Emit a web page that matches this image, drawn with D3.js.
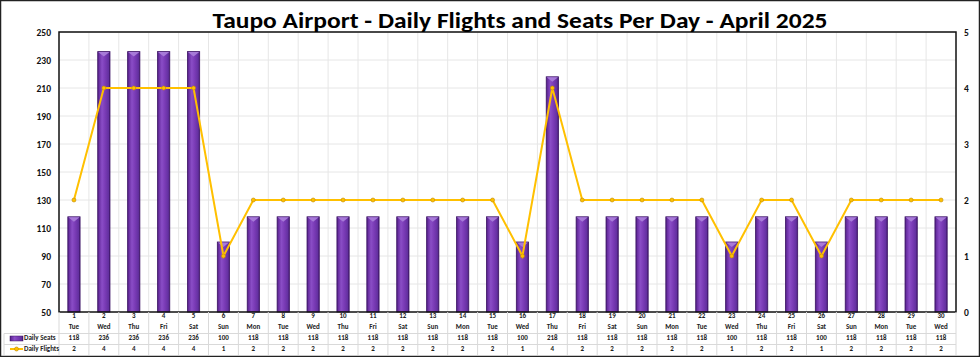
<!DOCTYPE html>
<html><head><meta charset="utf-8">
<script src="https://cdn.jsdelivr.net/npm/d3@7"></script>
<style>html,body{margin:0;padding:0;background:#fff}svg{display:block}</style>
</head><body>
<script>
const days = [1,2,3,4,5,6,7,8,9,10,11,12,13,14,15,16,17,18,19,20,21,22,23,24,25,26,27,28,29,30];
const weekdays = ["Tue","Wed","Thu","Fri","Sat","Sun","Mon","Tue","Wed","Thu","Fri","Sat","Sun","Mon","Tue","Wed","Thu","Fri","Sat","Sun","Mon","Tue","Wed","Thu","Fri","Sat","Sun","Mon","Tue","Wed"];
const seats = [118,236,236,236,236,100,118,118,118,118,118,118,118,118,118,100,218,118,118,118,118,118,100,118,118,100,118,118,118,118];
const flights = [2,4,4,4,4,1,2,2,2,2,2,2,2,2,2,1,4,2,2,2,2,2,1,2,2,1,2,2,2,2];
const leftTicks = [50,70,90,110,130,150,170,190,210,230,250];
const rightTicks = [0,1,2,3,4,5];
const title = "Taupo Airport - Daily Flights and Seats Per Day - April 2025";

const W = 980, H = 357;
const m = {l:59, r:956, t:32, b:312};
const font = "Calibri, Carlito, 'Open Sans', sans-serif";

const svg = d3.select("body").append("svg").attr("width", W).attr("height", H);
const defs = svg.append("defs");
const g = defs.append("linearGradient").attr("id","barg").attr("x1","0").attr("x2","1").attr("y1","0").attr("y2","0");
[[0,"#4a1c7a"],[0.12,"#6a2fa3"],[0.35,"#8a4dc6"],[0.6,"#7a3bb6"],[0.88,"#6330a0"],[1,"#3f1768"]].forEach(s=>g.append("stop").attr("offset",s[0]).attr("stop-color",s[1]));

svg.append("rect").attr("x",0.5).attr("y",0.5).attr("width",W-1).attr("height",H-1).attr("fill","#fff").attr("stroke","#222").attr("stroke-width",1.5);

const x = d3.scaleBand().domain(days).range([m.l, m.r]).paddingInner(0).paddingOuter(0);
const yL = d3.scaleLinear().domain([50,250]).range([m.b, m.t]);
const yR = d3.scaleLinear().domain([0,5]).range([m.b, m.t]);

// gridlines
svg.append("g").selectAll("line").data(leftTicks.slice(1)).join("line")
  .attr("x1", m.l).attr("x2", m.r).attr("y1", d=>yL(d)).attr("y2", d=>yL(d))
  .attr("stroke","#e6e6e6").attr("stroke-width",1);
svg.append("g").selectAll("line").data(days.slice(1)).join("line")
  .attr("x1", d=>x(d)).attr("x2", d=>x(d)).attr("y1", m.t).attr("y2", m.b)
  .attr("stroke","#e6e6e6").attr("stroke-width",1);

// bars
const bw = x.bandwidth()*0.41;
const bars = svg.append("g");
bars.selectAll("rect").data(days).join("rect")
  .attr("x", (d,i)=>x(d)+x.bandwidth()/2-bw/2)
  .attr("y", (d,i)=>yL(seats[i]))
  .attr("width", bw)
  .attr("height", (d,i)=>yL(50)-yL(seats[i]))
  .attr("fill","url(#barg)").attr("stroke","#3d1466").attr("stroke-width",0.8);
bars.selectAll("path").data(days).join("path")
  .attr("d",(d,i)=>{const x0=x(d)+x.bandwidth()/2-bw/2, y0=yL(seats[i]);
    return `M${x0+0.5},${y0+0.5}L${x0+bw-0.5},${y0+0.5}L${x0+bw/2},${y0+5}Z`;})
  .attr("fill","#a77ad8");

// plot border
svg.append("rect").attr("x",m.l).attr("y",m.t).attr("width",m.r-m.l).attr("height",m.b-m.t)
  .attr("fill","none").attr("stroke","#111").attr("stroke-width",1.5);

// line
const line = d3.line().x((d,i)=>x(days[i])+x.bandwidth()/2).y(d=>yR(d));
svg.append("path").datum(flights).attr("d",line).attr("fill","none").attr("stroke","#FFC000").attr("stroke-width",2);
svg.append("g").selectAll("circle").data(flights).join("circle")
  .attr("cx",(d,i)=>x(days[i])+x.bandwidth()/2).attr("cy",d=>yR(d)).attr("r",2)
  .attr("fill","#FFC000").attr("stroke","#c08a00").attr("stroke-width",0.6);

// axes labels
const axL = d3.axisLeft(yL).tickValues(leftTicks).tickSize(0).tickPadding(8).tickFormat(d3.format("d"));
svg.append("g").attr("transform",`translate(${m.l},0)`).call(axL)
  .call(s=>s.select(".domain").remove())
  .selectAll("text").attr("font-family",font).attr("font-weight","bold").attr("font-size",9.5).attr("fill","#111");
const axR = d3.axisRight(yR).tickValues(rightTicks).tickSize(0).tickPadding(8).tickFormat(d3.format("d"));
svg.append("g").attr("transform",`translate(${m.r},0)`).call(axR)
  .call(s=>s.select(".domain").remove())
  .selectAll("text").attr("font-family",font).attr("font-weight","bold").attr("font-size",9.5).attr("fill","#111");

// title
svg.append("text").attr("x",520).attr("y",28).attr("text-anchor","middle")
  .attr("font-family",font).attr("font-weight","bold").attr("font-size",23).attr("fill","#000")
  .attr("textLength",615).attr("lengthAdjust","spacingAndGlyphs").text(title);

// data table
const rows = [
  {y:318, vals:days},
  {y:329, vals:weekdays},
  {y:339.5, vals:seats},
  {y:350.5, vals:flights}
];
const tbl = svg.append("g").attr("font-family",font).attr("font-weight","bold").attr("font-size",7).attr("fill","#222").attr("text-anchor","middle");
rows.forEach(r=>{
  tbl.append("g").selectAll("text").data(r.vals).join("text")
    .attr("x",(d,i)=>x(days[i])+x.bandwidth()/2).attr("y",r.y).text(d=>d);
});
// table lines
const tl = svg.append("g").attr("stroke","#d9d9d9").attr("stroke-width",1);
[333.5, 344.5].forEach(yy=>tl.append("line").attr("x1",4).attr("x2",m.r).attr("y1",yy).attr("y2",yy));
days.slice(1).forEach(d=>tl.append("line").attr("x1",x(d)).attr("x2",x(d)).attr("y1",m.b).attr("y2",355));
tl.append("line").attr("x1",m.l).attr("x2",m.l).attr("y1",m.b).attr("y2",355);
tl.append("line").attr("x1",m.r).attr("x2",m.r).attr("y1",m.b).attr("y2",355);
tl.append("line").attr("x1",4).attr("x2",4).attr("y1",333.5).attr("y2",355);

// legend keys in table
svg.append("rect").attr("x",10).attr("y",336).attr("width",13).attr("height",5).attr("fill","url(#barg)").attr("stroke","#3d1466").attr("stroke-width",0.5);
svg.append("line").attr("x1",10).attr("x2",23).attr("y1",349).attr("y2",349).attr("stroke","#FFC000").attr("stroke-width",2);
svg.append("circle").attr("cx",16.5).attr("cy",349).attr("r",2).attr("fill","#FFC000").attr("stroke","#c08a00").attr("stroke-width",0.6);
const lg = svg.append("g").attr("font-family",font).attr("font-weight","bold").attr("font-size",7).attr("fill","#222");
lg.append("text").attr("x",24).attr("y",339.5).text("Daily Seats");
lg.append("text").attr("x",24).attr("y",350.5).text("Daily Flights");
</script>
</body></html>
